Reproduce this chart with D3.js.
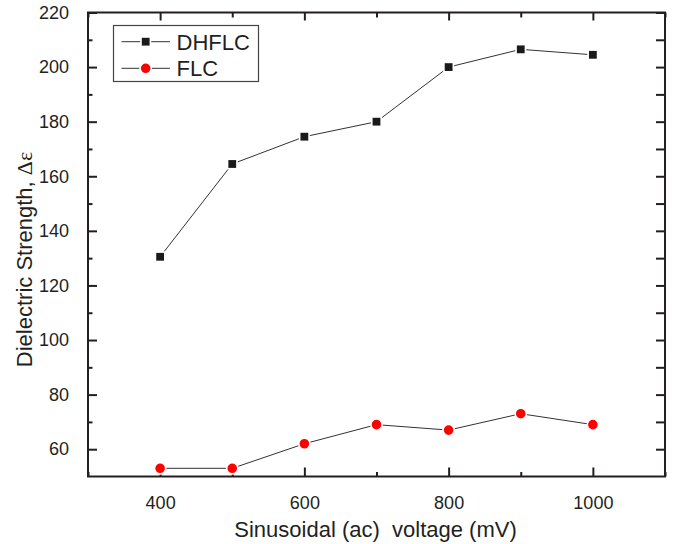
<!DOCTYPE html>
<html>
<head>
<meta charset="utf-8">
<script src="https://cdn.jsdelivr.net/npm/d3@7"></script>
<style>
  html, body { margin: 0; padding: 0; background: #fff; }
  svg { display: block; }
  text { font-family: "Liberation Sans", Arial, sans-serif; fill: #231f20; }
</style>
</head>
<body>
<svg id="chart" width="674" height="544"></svg>
<script>
// Applied ac voltage (mV)
const voltages = [400, 500, 600, 700, 800, 900, 1000];
// Dielectric strength for each material
const dhflcValues = [130.5, 164.5, 174.5, 180, 200, 206.5, 204.5];
const flcValues = [53, 53, 62, 69, 67, 73, 69];
// Axis ticks
const xTickValues = [400, 600, 800, 1000];
const xMinorTicks = [300, 500, 700, 900, 1100];
const yTickValues = [60, 80, 100, 120, 140, 160, 180, 200, 220];
const yMinorTicks = [70, 90, 110, 130, 150, 170, 190, 210];

const svg = d3.select("#chart");
const m = { left: 88, right: 665, top: 12.5, bottom: 476.5 };
const ink = "#231f20";

const x = d3.scaleLinear().domain([300, 1100]).range([m.left, m.right]);
const y = d3.scaleLinear().domain([50, 220]).range([m.bottom, m.top]);

const plotW = m.right - m.left, plotH = m.bottom - m.top;

// Bottom axis: labelled majors every 200, minors every 100 (inward ticks)
const xAxis = svg.append("g").attr("transform", `translate(0,${m.bottom})`);
xAxis.call(d3.axisBottom(x).tickValues(xTickValues).tickSize(-9).tickPadding(20).tickFormat(d3.format("d")));
xAxis.append("g").call(d3.axisBottom(x).tickValues(xMinorTicks).tickSize(-4.5).tickFormat(""));

// Top axis: mirrored ticks, no labels
const xTop = svg.append("g").attr("transform", `translate(0,${m.top})`);
xTop.call(d3.axisTop(x).tickValues(xTickValues).tickSize(-8).tickFormat(""));
xTop.append("g").call(d3.axisTop(x).tickValues(xMinorTicks).tickSize(-5).tickFormat(""));

// Left axis: majors every 20, minors every 10
const yAxis = svg.append("g").attr("transform", `translate(${m.left},0)`);
yAxis.call(d3.axisLeft(y).tickValues(yTickValues).tickSize(-9).tickPadding(19).tickFormat(d3.format("d")));
yAxis.append("g").call(d3.axisLeft(y).tickValues(yMinorTicks).tickSize(-4.5).tickFormat(""));

// Right axis: mirrored ticks
const yRight = svg.append("g").attr("transform", `translate(${m.right},0)`);
yRight.call(d3.axisRight(y).tickValues(yTickValues).tickSize(-9).tickFormat(""));
yRight.append("g").call(d3.axisRight(y).tickValues(yMinorTicks).tickSize(-9).tickFormat(""));

svg.selectAll(".domain").remove();
svg.selectAll(".tick line").attr("stroke", ink).attr("stroke-width", 2);
svg.selectAll(".tick text").attr("font-size", 18).attr("fill", ink)
  .attr("font-family", "'Liberation Sans', Arial, sans-serif");

// Frame
svg.append("rect")
  .attr("x", m.left).attr("y", m.top).attr("width", plotW).attr("height", plotH)
  .attr("fill", "none").attr("stroke", ink).attr("stroke-width", 2);

// Series
const series = [
  { name: "DHFLC", values: dhflcValues, shape: "square", color: "#1a1a1a" },
  { name: "FLC", values: flcValues, shape: "circle", color: "#ff0000" }
];

const line = d3.line().x(d => x(d[0])).y(d => y(d[1]));

function drawMarker(g, shape, color, cx, cy) {
  if (shape === "square") {
    g.append("rect").attr("x", cx - 4.7).attr("y", cy - 4.7).attr("width", 9.4).attr("height", 9.4)
      .attr("fill", color).attr("stroke", "#fff").attr("stroke-width", 1.6);
  } else {
    g.append("circle").attr("cx", cx).attr("cy", cy).attr("r", 5.6)
      .attr("fill", color).attr("stroke", "#fff").attr("stroke-width", 1.6);
  }
}

series.forEach(s => {
  const pts = voltages.map((v, i) => [v, s.values[i]]);
  svg.append("path").datum(pts).attr("d", line)
    .attr("fill", "none").attr("stroke", "#333").attr("stroke-width", 1);
  const g = svg.append("g");
  pts.forEach(p => drawMarker(g, s.shape, s.color, x(p[0]), y(p[1])));
});

// Legend
const legend = svg.append("g");
legend.append("rect").attr("x", 113.5).attr("y", 25.5).attr("width", 145).attr("height", 56)
  .attr("fill", "#fff").attr("stroke", "#444").attr("stroke-width", 1.2);
series.forEach((s, i) => {
  const ly = 41.7 + i * 26.6;
  legend.append("line").attr("x1", 121.5).attr("x2", 170).attr("y1", ly).attr("y2", ly)
    .attr("stroke", "#333").attr("stroke-width", 1);
  drawMarker(legend, s.shape, s.color, 145.7, ly);
  legend.append("text").attr("x", 176.5).attr("y", ly + 8).attr("font-size", 22).text(s.name);
});

// Axis titles
svg.append("text")
  .attr("x", (233 + 518) / 2).attr("y", 536.5).attr("text-anchor", "middle")
  .attr("font-size", 22).style("white-space", "pre")
  .text("Sinusoidal (ac)  voltage (mV)");

const yt = svg.append("text")
  .attr("transform", "translate(31.5,259.5) rotate(-90)")
  .attr("text-anchor", "middle").attr("font-size", 22);
yt.append("tspan").text("Dielectric Strength, ");
yt.append("tspan").attr("font-family", "'Liberation Serif', 'Times New Roman', serif").text("Δε");
</script>
</body>
</html>
